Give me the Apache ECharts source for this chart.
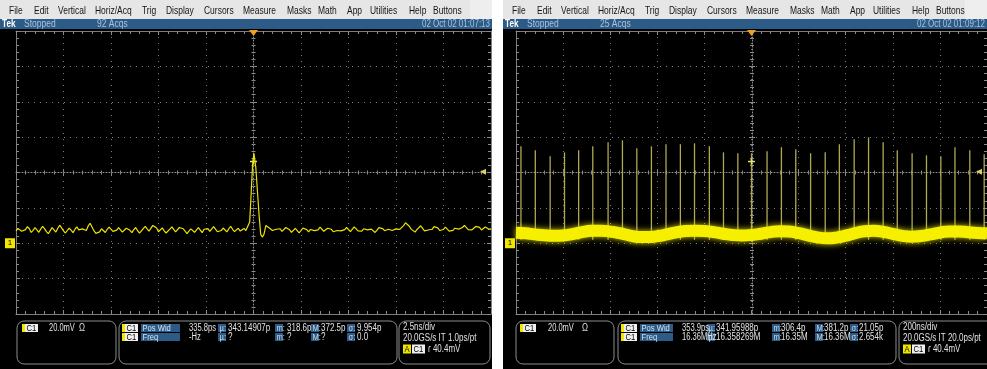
<!DOCTYPE html>
<html>
<head>
<meta charset="utf-8">
<script src="https://cdn.jsdelivr.net/npm/echarts@6.0.0/dist/echarts.min.js"></script>
<style>
  html, body { margin: 0; padding: 0; background: #fff; }
  #chart { width: 987px; height: 369px; }
</style>
</head>
<body>
<div id="chart"></div>
<script>
// left capture: single pulse, 2.5 ns/div, 20 mV/div
const leftStepNs = 0.1;
const leftNoiseMv = [
  7.0, 8.4, 9.1, 6.8, 5.9, 7.7, 9.4, 8.2, 6.1, 7.3,
  8.9, 7.5, 6.2, 8.0, 9.6, 8.3, 6.6, 5.4, 7.1, 8.8,
  7.9, 6.3, 8.5, 10.2, 8.7, 7.0, 5.8, 6.9, 8.6, 7.4,
  6.0, 7.8, 9.3, 7.6, 6.5, 8.1, 9.0, 7.2, 9.8, 11.3,
  9.2, 7.1, 5.6, 4.9, 6.4, 8.2, 7.5, 6.1, 7.9, 9.1,
  8.0, 6.7, 5.9, 7.4, 8.8, 7.6, 6.3, 7.0, 8.5, 9.2,
  7.3, 6.0, 7.7, 8.9, 7.1, 5.7, 6.8, 8.3, 9.5, 8.1,
  6.9, 8.4, 10.1, 11.0, 8.6, 6.5, 7.2, 8.7, 7.0, 5.8,
  6.6, 8.0, 9.3, 7.8, 6.4, 7.5, 8.9, 9.7, 8.2, 6.8,
  5.5, 6.9, 8.1, 7.3, 6.2, 7.6, 8.8, 7.4, 6.0, 7.9,
  9.0, 8.3, 6.7, 7.8, 9.4, 8.0, 6.5, 5.9, 7.2, 8.6,
  7.7, 6.4, 8.2, 9.6, 7.9, 6.6, 7.4, 8.5, 6.9, 7.8,
  8.4, 7.2, 7.0, 7.5, 7.3, 7.6, 7.2, 7.4, 7.1, 7.5,
  7.3, 7.2, 7.4, 7.6, 8.8, 7.2, 6.1, 7.9, 9.0, 8.2,
  6.7, 7.5, 8.9, 9.8, 7.6, 6.2, 7.0, 8.4, 7.3, 5.8,
  6.9, 8.6, 9.2, 7.7, 6.4, 7.8, 8.7, 7.1, 6.0, 7.6,
  9.1, 8.0, 6.8, 7.4, 8.5, 9.4, 7.9, 6.5, 5.7, 7.2,
  8.3, 7.0, 6.3, 7.7, 8.9, 8.1, 6.6, 7.5, 9.3, 8.4,
  7.0, 5.9, 6.8, 8.2, 9.0, 7.6, 6.9, 8.0, 7.3, 6.1,
  7.4, 8.8, 9.7, 8.3, 7.1, 6.4, 7.9, 8.6, 7.2, 6.7,
  8.1, 9.2, 7.8, 8.9, 10.0, 11.6, 12.0, 9.6, 8.0, 7.1,
  6.3, 7.7, 8.8, 9.9, 8.4, 7.0, 6.2, 7.5, 8.6, 7.9,
  9.4, 10.3, 8.7, 7.2, 6.5, 7.8, 9.1, 8.2, 6.9, 6.0,
  7.3, 8.5, 9.6, 8.0, 7.4, 8.9, 10.1, 9.3, 7.7, 6.8,
  7.6, 8.3, 9.5, 10.4, 9.0, 7.5, 8.1, 9.2, 8.4, 7.9,
  8.2
];
const pulseNs = [-0.3, -0.2, -0.12, -0.05, 0.02, 0.07, 0.12, 0.21, 0.3, 0.38, 0.46, 0.55, 0.65, 0.75, 0.85];
const pulseMv = [7, 12, 29, 44, 51, 50, 43, 29, 15, 5, 3.5, 5, 10, 10.5, 8.5];

// right capture: pulse train, 200 ns/div, 20 mV/div
const bandStepNs = 40;
const bandMv = [
  6.0, 5.6, 5.0, 4.5, 4.2, 4.4, 5.2, 6.3, 7.0, 7.1,
  6.6, 5.7, 4.5, 3.6, 3.5, 4.0, 5.0, 6.2, 6.9, 7.1,
  6.9, 6.3, 5.4, 4.7, 4.4, 4.7, 5.4, 6.3, 6.8, 6.6,
  5.7, 4.5, 3.3, 2.8, 3.2, 4.3, 5.7, 6.8, 7.0, 6.4,
  5.3, 4.2, 3.7, 4.1, 5.0, 6.0, 6.7, 6.7, 6.2, 5.8,
  5.6
];
const spikeNs = [-979, -918, -855, -794, -734, -674, -609, -548, -487, -425, -363,
  -302, -242, -179, -119, -58, 0, 66, 127, 188, 251, 313, 373, 436, 497, 559,
  619, 682, 743, 804, 864, 927, 988];
const spikeMv = [54.8, 52.6, 49.2, 51.4, 52.6, 54.8, 57.1, 58.2, 53.7, 54.8, 56.0,
  56.0, 56.5, 54.8, 51.4, 50.9, 50.9, 52.0, 54.3, 53.1, 50.9, 51.4, 56.0, 58.8,
  59.9, 57.1, 52.6, 50.9, 49.7, 49.2, 54.3, 52.6, 50.3];
const spikeBaseMv = 2;

const triggerMv = 40.4;
const menuItems = ['File', 'Edit', 'Vertical', 'Horiz/Acq', 'Trig', 'Display', 'Cursors',
  'Measure', 'Masks', 'Math', 'App', 'Utilities', 'Help', 'Buttons'];

const FONT = '"Liberation Sans", Arial, sans-serif';
const SX = 0.8;
const menuX = [9, 34, 58, 95, 142, 166, 204, 243, 287, 318, 347, 370, 409, 433];

const leftData = [];
leftNoiseMv.forEach((v, i) => {
  const t = -12.5 + i * leftStepNs;
  if (t < pulseNs[0] - 0.01 || t > pulseNs[pulseNs.length - 1] + 0.01) leftData.push([t, v]);
});
pulseNs.forEach((t, i) => leftData.push([t, pulseMv[i]]));
leftData.sort((a, b) => a[0] - b[0]);

const bandData = bandMv.map((v, i) => [-1000 + i * bandStepNs, v]);
const spikeData = spikeNs.map((t, i) => [t, spikeMv[i]]);

// graticule: frame axes, centre cross axes
function scopeAxes(gi, min, max, step, isX, half) {
  const base = {
    gridIndex: gi, type: 'value', min: min, max: max, interval: step,
    axisLabel: { show: false }, splitLine: { show: false }
  };
  const frame = { show: true, onZero: false, lineStyle: { color: '#7d7d7d', width: 1 } };
  const tick = { show: true, inside: true, length: 4, lineStyle: { color: '#8a8a8a' } };
  const minor = { show: true, splitNumber: 5, length: 3, lineStyle: { color: '#8a8a8a' } };
  const pos = isX ? ['bottom', 'top'] : ['left', 'right'];
  return [
    Object.assign({}, base, {
      position: pos[0], axisLine: frame, axisTick: tick, minorTick: minor,
      splitLine: { show: true, lineStyle: { color: '#7a7a7a', width: 1, type: [1, 5] } }
    }),
    Object.assign({}, base, { position: pos[1], axisLine: frame, axisTick: tick, minorTick: minor }),
    Object.assign({}, base, {
      position: pos[0], offset: -half,
      axisLine: { show: true, onZero: false, lineStyle: { color: '#909090', width: 1, type: [1, 2] } },
      axisTick: Object.assign({}, tick, { length: 3 }), minorTick: Object.assign({}, minor, { length: 2 })
    }),
    Object.assign({}, base, {
      position: pos[0], offset: -half,
      axisLine: { show: false, onZero: false },
      axisTick: Object.assign({}, tick, { inside: false, length: 3 }),
      minorTick: Object.assign({}, minor, { length: 2 })
    })
  ];
}

function txt(x, y, s, color, size, extra, sx) {
  return {
    type: 'text', x: x, y: y, scaleX: sx || SX, z: 50,
    style: Object.assign({
      text: s, fill: color, fontSize: size, fontFamily: FONT, verticalAlign: 'middle'
    }, extra || {})
  };
}
function rect(x, y, w, h, fill, extra) {
  return Object.assign({ type: 'rect', z: 40, shape: { x: x, y: y, width: w, height: h }, style: { fill: fill } }, extra || {});
}
function box(x, y, w, h) {
  return { type: 'rect', z: 40, shape: { x: x, y: y, width: w, height: h, r: 7 },
    style: { fill: 'none', stroke: '#8c8c8c', lineWidth: 1 } };
}
function tag(x, y, w, s, fill, color) {
  return [rect(x, y, w, 8, fill, { z: 45 }), txt(x + 1.5, y + 4.3, s, color, 9.5, { }, SX)];
}
function c1(x, y) {
  return [rect(x, y, 3, 8, '#f2e600'), rect(x + 3, y, 13, 8, '#f0f0f0'), txt(x + 4.5, y + 4.3, 'C1', '#000', 9.5)];
}

const chrome = [];
function scopeChrome(ox, w, acqs, date, m) {
  chrome.push(rect(ox, 0, w, 19, '#e6e6e6', { z: -10 }));
  chrome.push(rect(ox + w - 22, 0, 22, 19, '#eeeeee', { z: -9 }));
  chrome.push(rect(ox, 19, w, 10, '#2c5b88', { z: -10 }));
  chrome.push(rect(ox, 29, w, 340, '#000', { z: -10 }));
  menuItems.forEach((s, i) => chrome.push(txt(ox + menuX[i], 10.5, s, '#151515', 11, null, 0.77)));
  chrome.push(txt(ox + 2, 24, 'Tek', '#ffffff', 10, { fontWeight: 'bold' }, 0.82));
  chrome.push(txt(ox + 24, 24, 'Stopped', '#a9c2dc', 10, null, 0.85));
  chrome.push(txt(ox + 97, 24, acqs, '#a9c2dc', 10, null, 0.85));
  chrome.push(txt(ox + w - 2, 24, date, '#a9c2dc', 10, { align: 'right' }, 0.8));
  // readout boxes
  chrome.push(box(m.b1[0], 321, m.b1[1], 43));
  chrome.push(box(m.b2[0], 321, m.b2[1], 43));
  chrome.push(box(m.b3[0], 321, m.b3[1], 43));
  chrome.push(...c1(m.ch[0], 324));
  chrome.push(txt(m.ch[1], 328.3, '20.0mV', '#e2e2e2', 10, null, 0.75));
  chrome.push(txt(m.ch[2], 328.3, 'Ω', '#e2e2e2', 10));
  const rows = [[324, 'Pos Wid', m.r1], [333, 'Freq', m.r2]];
  rows.forEach(([y, name, vals]) => {
    chrome.push(...c1(m.c[0], y));
    chrome.push(...tag(m.c[1], y, m.c[2], name, '#2c5b88', '#d6e2ee'));
    const keys = ['µ:', 'm:', 'M:', 'σ:'];
    chrome.push(txt(m.v[0], y + 4.3, vals[0], '#e2e2e2', 10, null, 0.76));
    keys.forEach((k, i) => {
      chrome.push(...tag(m.k[i], y, 8, k, '#2c5b88', '#c9d8e8'));
      chrome.push(txt(m.v[i + 1], y + 4.3, vals[i + 1], '#e2e2e2', 10));
    });
  });
  chrome.push(txt(m.t, 327.5, m.div, '#e2e2e2', 10));
  chrome.push(txt(m.t, 338, m.rate, '#e2e2e2', 10));
  chrome.push(rect(m.t, 344.5, 8, 9, '#f2e600'), txt(m.t + 1.5, 349.3, 'A', '#000', 9.5));
  chrome.push(rect(m.t + 9, 344.5, 13, 9, '#f0f0f0'), txt(m.t + 10.5, 349.3, 'C1', '#000', 9.5));
  chrome.push(txt(m.t + 25, 349, 'ɾ 40.4mV', '#e2e2e2', 10));
}
chrome.push(rect(0, 0, 987, 369, '#ffffff', { z: -20 }));
scopeChrome(0, 492, '92 Acqs', '02 Oct 02 01:07:13', {
  b1: [17, 99], b2: [119, 278], b3: [399, 91],
  ch: [22, 49, 79],
  c: [122, 141, 39], k: [218, 275, 311, 347], v: [189, 228, 287, 321, 357],
  r1: ['335.8ps', '343.14907p', '318.6p', '372.5p', '9.954p'],
  r2: ['-Hz', '?', '?', '?', '0.0'],
  t: 403, div: '2.5ns/div', rate: '20.0GS/s IT 1.0ps/pt'
});
scopeChrome(503, 484, '25 Acqs', '02 Oct 02 01:09:12', {
  b1: [516, 98], b2: [618, 278], b3: [899, 100],
  ch: [520, 548, 582],
  c: [621, 640, 33], k: [707, 772, 815, 850], v: [682, 716, 781, 824, 859],
  r1: ['353.9ps', '341.95988p', '306.4p', '381.2p', '21.05p'],
  r2: ['16.36MHz', '16.358269M', '16.35M', '16.36M', '2.654k'],
  t: 903, div: '200ns/div', rate: '20.0GS/s IT 20.0ps/pt'
});

function markers(xMin, xMax) {
  return {
    silent: true, animation: false,
    data: [
      { coord: [0, 120], symbol: 'triangle', symbolRotate: 180, symbolSize: [9, 6], symbolOffset: [0, 2],
        itemStyle: { color: '#f0a020' } },
      { coord: [xMax, triggerMv], symbol: 'triangle', symbolRotate: 90, symbolSize: [6, 6], symbolOffset: [-8, 0],
        itemStyle: { color: '#d8d066' } },
      { coord: [xMin, 0], symbol: 'rect', symbolSize: [10, 10], symbolOffset: [-6, 0],
        itemStyle: { color: '#f2e600' },
        label: { show: true, formatter: '1', color: '#000', fontSize: 8, fontFamily: FONT, position: 'inside' } },
      { coord: [0, 46.2], symbol: 'rect', symbolSize: [7, 1.5], itemStyle: { color: '#e8e070' } },
      { coord: [0, 46.2], symbol: 'rect', symbolSize: [1.5, 6], itemStyle: { color: '#e8e070' } }
    ]
  };
}

const chart = echarts.init(document.getElementById('chart'), null, { renderer: 'canvas' });
chart.setOption({
  animation: false,
  backgroundColor: 'transparent',
  graphic: chrome,
  grid: [
    { left: 16, top: 31, width: 475, height: 283 },
    { left: 516, top: 31, width: 472, height: 283 }
  ],
  xAxis: [].concat(scopeAxes(0, -12.5, 12.5, 2.5, true, 141.5), scopeAxes(1, -1000, 1000, 200, true, 141.5)),
  yAxis: [].concat(scopeAxes(0, -40, 120, 20, false, 237.5), scopeAxes(1, -40, 120, 20, false, 236)),
  series: [
    {
      type: 'line', xAxisIndex: 0, yAxisIndex: 0, data: leftData, showSymbol: false, z: 5,
      lineStyle: { color: '#ece300', width: 1.2 },
      markPoint: markers(-12.5, 12.5)
    },
    {
      type: 'custom', coordinateSystem: 'cartesian2d', xAxisIndex: 4, yAxisIndex: 4, z: 4,
      data: spikeData, encode: { x: 0, y: 1 },
      renderItem: (params, api) => {
        const top = api.coord([api.value(0), api.value(1)]);
        const bottom = api.coord([api.value(0), spikeBaseMv]);
        return { type: 'line', shape: { x1: top[0], y1: top[1], x2: bottom[0], y2: bottom[1] },
          style: { stroke: '#b0a852', lineWidth: 1.3 } };
      }
    },
    {
      type: 'line', xAxisIndex: 4, yAxisIndex: 4, data: bandData, showSymbol: false, smooth: true, z: 5,
      lineStyle: { color: '#f6f000', width: 12, shadowBlur: 6, shadowColor: 'rgba(240,232,0,0.9)' },
      markPoint: markers(-1000, 1000)
    }
  ]
});
</script>
</body>
</html>
